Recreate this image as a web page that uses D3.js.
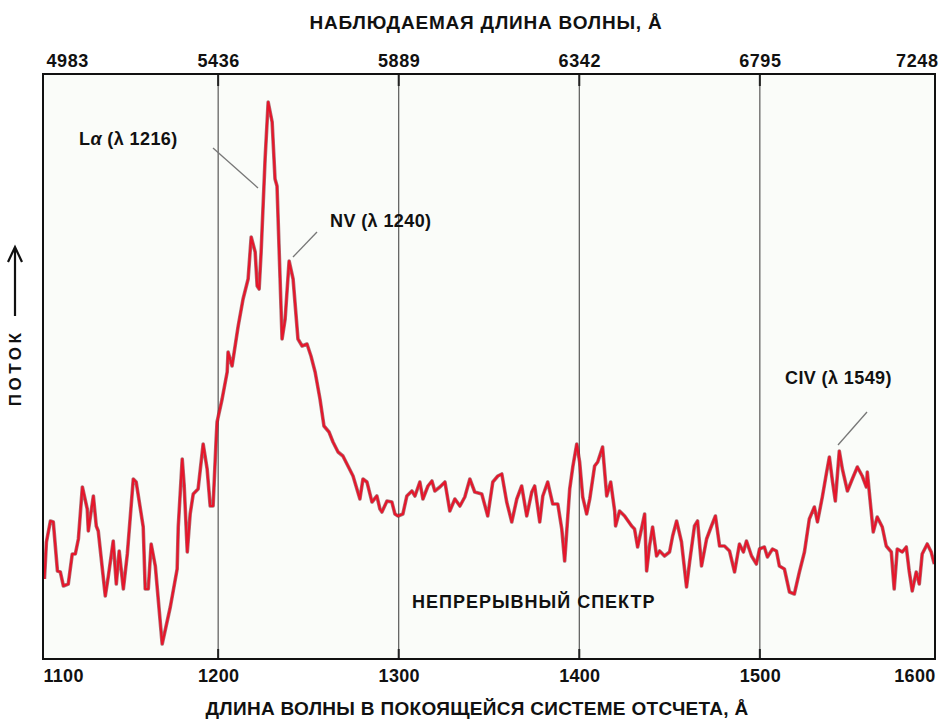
<!DOCTYPE html>
<html lang="ru">
<head>
<meta charset="utf-8">
<title>Спектр квазара</title>
<script src="https://cdn.jsdelivr.net/npm/d3@7/dist/d3.min.js"></script>
<style>
  html, body { margin: 0; padding: 0; background: #ffffff; }
  svg { display: block; }
  text { font-family: "Liberation Sans", Arial, Helvetica, sans-serif; font-weight: bold; fill: #111; }
</style>
</head>
<body>
<svg id="chart" width="939" height="727"></svg>
<script>
// Rest-frame wavelength (Å) and relative flux of the spectrum
const restWavelength = [
  1103.8,1104.9,1107.1,1108.7,1111.0,1112.6,1114.3,1117.0,1119.2,1120.9,1122.6,1124.8,1127.5,1128.1,1130.9,1132.5,
  1133.6,1137.5,1139.2,1141.9,1143.6,1145.2,1147.5,1149.7,1153.0,1154.6,1158.5,1159.6,1161.3,1162.9,1165.2,1169.0,
  1173.5,1177.3,1177.9,1180.1,1181.2,1182.9,1184.5,1186.2,1188.9,1191.7,1193.9,1195.6,1197.2,1198.9,1199.4,1202.2,
  1205.0,1205.5,1207.7,1209.4,1211.1,1213.8,1216.6,1218.3,1220.5,1221.6,1222.7,1223.8,1226.0,1227.7,1229.9,1231.5,
  1232.6,1235.4,1237.1,1239.3,1241.5,1244.2,1246.5,1249.2,1251.4,1253.7,1256.4,1258.6,1261.4,1263.6,1266.4,1269.1,
  1271.9,1274.7,1278.5,1280.2,1282.4,1285.2,1287.9,1289.6,1290.7,1293.5,1296.2,1297.9,1299.6,1302.3,1304.5,1307.3,
  1309.0,1311.7,1313.4,1316.2,1318.4,1320.0,1322.8,1325.6,1328.3,1331.1,1333.9,1336.6,1339.4,1342.1,1346.0,1349.3,
  1352.1,1354.9,1357.1,1359.8,1362.6,1365.4,1368.1,1370.9,1373.7,1375.3,1378.1,1379.8,1382.5,1385.3,1388.1,1390.3,
  1391.9,1394.7,1396.4,1398.6,1400.2,1401.9,1404.1,1405.8,1408.5,1410.2,1412.9,1415.2,1417.4,1419.6,1420.1,1422.3,
  1425.1,1429.0,1430.6,1432.3,1436.2,1437.3,1438.9,1440.6,1442.8,1444.5,1447.2,1450.0,1451.7,1453.9,1456.6,1459.4,
  1461.1,1463.8,1465.5,1467.7,1470.5,1473.2,1475.4,1477.7,1480.4,1483.2,1486.0,1488.7,1490.9,1492.6,1495.4,1498.1,
  1499.8,1502.5,1504.2,1507.0,1509.2,1510.8,1513.6,1516.4,1519.1,1521.9,1524.7,1527.4,1530.2,1531.9,1534.6,1536.8,
  1538.5,1540.2,1541.8,1544.0,1545.7,1548.5,1551.2,1554.0,1556.7,1559.0,1559.5,1561.7,1562.8,1565.0,1567.8,1570.0,
  1572.8,1574.4,1576.1,1578.9,1581.1,1582.7,1584.4,1586.6,1588.3,1589.9,1592.7,1594.9,1596.6
];
const flux = [
  16.0,23.4,27.6,27.4,17.6,17.4,14.6,15.0,21.0,21.0,24.0,34.4,30.0,25.6,32.6,26.6,
  25.6,12.6,16.6,23.6,15.0,21.6,14.0,21.0,36.0,35.4,26.4,14.0,14.0,23.0,18.6,3.0,
  10.4,18.0,26.4,40.0,34.6,21.4,29.0,33.0,34.0,43.0,38.0,30.6,30.6,44.0,47.4,52.0,
  57.4,61.4,58.6,62.6,66.6,72.0,76.0,84.4,81.4,74.6,74.0,81.4,100.0,111.4,107.4,96.0,
  94.6,64.0,68.0,79.6,76.0,64.0,62.6,63.0,60.6,57.4,52.0,46.6,45.4,43.4,41.4,40.6,
  38.6,36.6,32.0,36.0,35.4,31.4,32.6,30.0,29.4,31.6,31.4,29.0,28.6,29.0,32.6,33.6,
  32.6,35.4,32.0,34.6,35.6,33.6,34.4,35.4,29.6,32.0,30.6,32.4,36.0,33.4,33.0,28.6,
  35.4,36.6,37.0,31.4,27.4,32.0,34.6,28.6,33.4,34.6,27.4,32.6,35.4,31.0,31.0,26.0,
  19.6,34.0,38.4,43.0,39.4,32.4,29.0,32.0,38.6,39.4,42.4,32.6,35.4,29.6,26.6,29.6,
  28.6,26.6,26.0,22.4,29.0,17.6,22.6,26.4,20.6,21.6,20.6,21.4,24.6,27.6,23.4,14.4,
  19.4,26.6,27.6,18.6,24.0,26.6,28.6,22.6,22.6,21.6,17.4,23.0,21.4,23.6,20.6,19.0,
  22.0,22.4,20.4,22.0,21.6,18.6,18.0,13.4,13.0,17.4,21.4,28.0,30.4,27.4,32.4,37.0,
  40.4,35.6,31.6,41.6,38.0,33.6,36.0,38.4,36.6,34.4,37.4,29.4,25.4,28.4,26.4,22.6,
  21.4,14.0,22.0,21.4,22.4,17.6,13.6,17.4,15.0,21.0,23.0,21.4,19.0
];

// Axis ticks: rest frame (bottom) and observed frame (top)
const restTicks = [1100, 1200, 1300, 1400, 1500, 1600];
const observedTicks = [4983, 5436, 5889, 6342, 6795, 7248];
const gridWavelengths = [1200, 1300, 1400, 1500];

// Emission line annotations
const lineLabels = ["Lα", "NV", "CIV"];
const lineRest = [1216, 1240, 1549];

const redshiftFactor = 4.53; // 1 + z

const svg = d3.select("#chart");
const plotLeft = 43, plotRight = 935, plotTop = 74, plotBottom = 659;

const x = d3.scaleLinear().domain([1103, 1597]).range([plotLeft, plotRight]);
const xObs = d3.scaleLinear().domain(x.domain().map(d => d * redshiftFactor)).range([plotLeft, plotRight]);
const y = d3.scaleLinear().domain([0, 117]).range([plotBottom, plotTop]);

// Plot background
svg.append("rect")
  .attr("x", plotLeft).attr("y", plotTop)
  .attr("width", plotRight - plotLeft).attr("height", plotBottom - plotTop)
  .attr("fill", "#fafcf9");

svg.append("defs").append("clipPath").attr("id", "plot-clip")
  .append("rect").attr("x", plotLeft).attr("y", plotTop)
  .attr("width", plotRight - plotLeft).attr("height", plotBottom - plotTop);

// Vertical grid lines at every 100 Å
const grid = svg.append("g");
grid.selectAll("line.grid").data(gridWavelengths).join("line")
  .attr("class", "grid")
  .attr("x1", d => x(d)).attr("x2", d => x(d))
  .attr("y1", plotTop).attr("y2", plotBottom)
  .attr("stroke", "#4a4a4a").attr("stroke-width", 1.1);
grid.selectAll("line.stub-top").data(gridWavelengths).join("line")
  .attr("class", "stub-top")
  .attr("x1", d => x(d)).attr("x2", d => x(d))
  .attr("y1", plotTop).attr("y2", plotTop + 12)
  .attr("stroke", "#222").attr("stroke-width", 2);
grid.selectAll("line.stub-bottom").data(gridWavelengths).join("line")
  .attr("class", "stub-bottom")
  .attr("x1", d => x(d)).attr("x2", d => x(d))
  .attr("y1", plotBottom - 10).attr("y2", plotBottom)
  .attr("stroke", "#222").attr("stroke-width", 2);

// Spectrum
const points = d3.zip(restWavelength, flux);
const line = d3.line().x(d => x(d[0])).y(d => y(d[1]));
const spec = svg.append("g").attr("clip-path", "url(#plot-clip)");
spec.append("path").datum(points)
  .attr("d", line).attr("fill", "none")
  .attr("stroke", "#7a1420").attr("stroke-opacity", 0.6)
  .attr("stroke-width", 3.6).attr("stroke-linejoin", "round");
spec.append("path").datum(points)
  .attr("d", line).attr("fill", "none")
  .attr("stroke", "#e6162b").attr("stroke-width", 2.2)
  .attr("stroke-linejoin", "round");

// Frame
svg.append("rect")
  .attr("x", plotLeft).attr("y", plotTop)
  .attr("width", plotRight - plotLeft).attr("height", plotBottom - plotTop)
  .attr("fill", "none").attr("stroke", "#111").attr("stroke-width", 2);

// Bottom axis (rest frame)
const axB = svg.append("g").attr("transform", `translate(0,${plotBottom})`)
  .call(d3.axisBottom(x).tickValues(restTicks).tickSize(0).tickFormat(d3.format("d")));
axB.select(".domain").remove();
axB.attr("font-family", null).attr("font-size", null);
axB.selectAll("text")
  .attr("y", 23).attr("dy", 0)
  .style("font-size", "18px").style("letter-spacing", "0.3px")
  .attr("fill", "#111");
axB.selectAll(".tick").filter(d => d === restTicks[0]).select("text")
  .attr("text-anchor", "start").attr("x", plotLeft - x(restTicks[0]));
axB.selectAll(".tick").filter(d => d === restTicks[restTicks.length - 1]).select("text")
  .attr("text-anchor", "end").attr("x", plotRight - x(restTicks[restTicks.length - 1]));

// Top axis (observed frame)
const axT = svg.append("g").attr("transform", `translate(0,${plotTop})`)
  .call(d3.axisTop(xObs).tickValues(observedTicks).tickSize(0).tickFormat(d3.format("d")));
axT.select(".domain").remove();
axT.attr("font-family", null).attr("font-size", null);
axT.selectAll("text")
  .attr("y", -7).attr("dy", 0)
  .style("font-size", "18px").style("letter-spacing", "0.6px")
  .attr("fill", "#111");
axT.selectAll(".tick").filter(d => d === observedTicks[0]).select("text")
  .attr("text-anchor", "start").attr("x", plotLeft + 3 - xObs(observedTicks[0]));
axT.selectAll(".tick").filter(d => d === observedTicks[observedTicks.length - 1]).select("text")
  .attr("text-anchor", "end").attr("x", plotRight + 3 - xObs(observedTicks[observedTicks.length - 1]));

// Axis titles
svg.append("text")
  .attr("x", 486).attr("y", 29).attr("text-anchor", "middle")
  .style("font-size", "19px").style("letter-spacing", "0.8px")
  .text("НАБЛЮДАЕМАЯ ДЛИНА ВОЛНЫ, Å");
svg.append("text")
  .attr("x", 477).attr("y", 715).attr("text-anchor", "middle")
  .style("font-size", "19px").style("letter-spacing", "0.3px")
  .text("ДЛИНА ВОЛНЫ В ПОКОЯЩЕЙСЯ СИСТЕМЕ ОТСЧЕТА, Å");

// Flux label with arrow
svg.append("text")
  .attr("transform", "translate(21,368) rotate(-90)")
  .attr("text-anchor", "middle")
  .style("font-size", "17px").style("letter-spacing", "3.5px")
  .text("ПОТОК");
svg.append("path")
  .attr("d", "M15,316 V248 M8,262 L15,247 L22,262")
  .attr("fill", "none").attr("stroke", "#111").attr("stroke-width", 2.2)
  .attr("stroke-linejoin", "miter");

// Emission line labels and leader lines
const labelPos = [[79, 145], [330, 227], [785, 384]];
const leaders = [
  [[213, 148], [258, 188]],
  [[317, 232], [293, 257]],
  [[867, 412], [838, 445]]
];
lineLabels.forEach((name, i) => {
  const t = svg.append("text")
    .attr("x", labelPos[i][0]).attr("y", labelPos[i][1])
    .style("font-size", "18px").style("letter-spacing", "0.4px");
  if (name === "Lα") {
    t.append("tspan").text("L");
    t.append("tspan").style("font-style", "italic").text("α");
  } else {
    t.append("tspan").text(name);
  }
  t.append("tspan").text(` (λ ${lineRest[i]})`);
  svg.append("line")
    .attr("x1", leaders[i][0][0]).attr("y1", leaders[i][0][1])
    .attr("x2", leaders[i][1][0]).attr("y2", leaders[i][1][1])
    .attr("stroke", "#777").attr("stroke-width", 1.3);
});

svg.append("text")
  .attr("x", 412).attr("y", 608)
  .style("font-size", "18px").style("letter-spacing", "1px")
  .text("НЕПРЕРЫВНЫЙ СПЕКТР");
</script>
</body>
</html>
